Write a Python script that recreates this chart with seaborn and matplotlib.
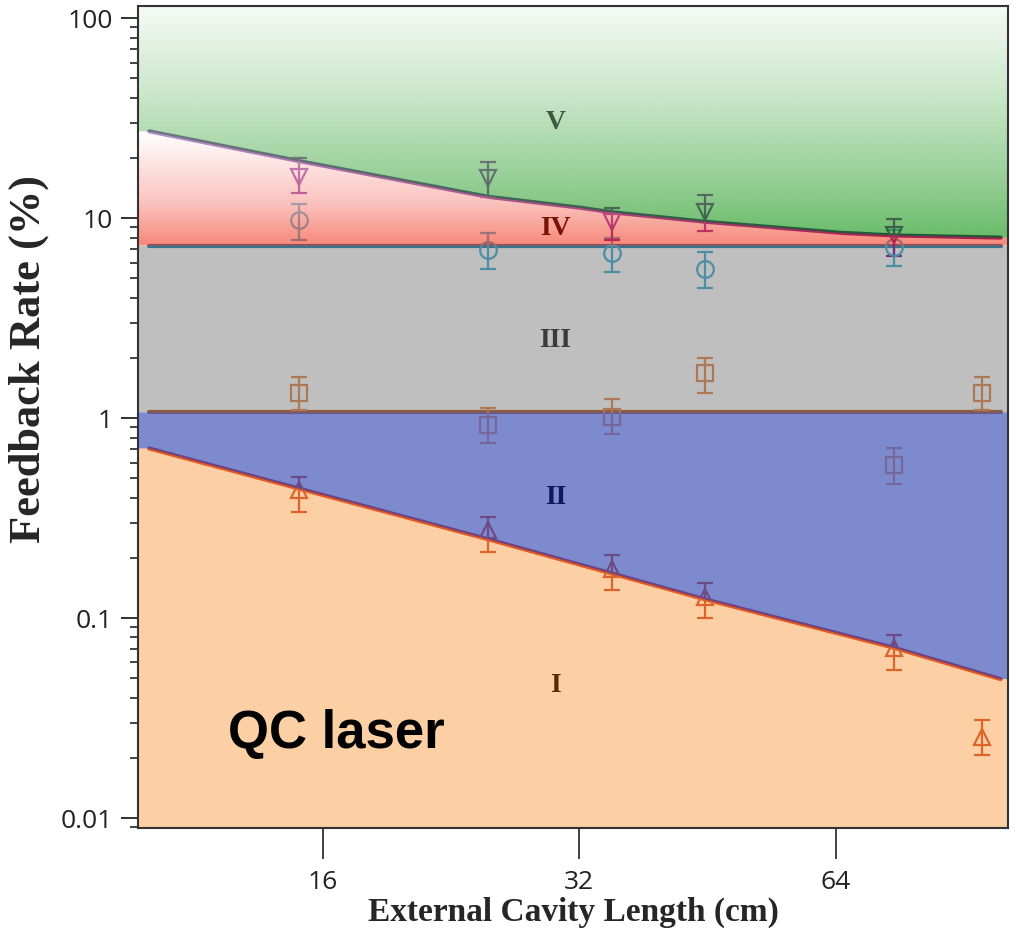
import numpy as np
import pandas as pd
import matplotlib
matplotlib.use("Agg")
import matplotlib.pyplot as plt
from matplotlib.patches import Polygon
from matplotlib.ticker import FixedLocator, FixedFormatter, LogLocator, NullLocator, NullFormatter
import seaborn as sns

# ---------------- measured thresholds (feedback rate in %) ----------------
# upward triangles: onset of regime II
len_up = [15, 25, 35, 45, 75, 95]
rate_up = [0.436, 0.275, 0.176, 0.128, 0.071, 0.0254]
up_lo = [0.34, 0.214, 0.138, 0.100, 0.055, 0.0207]
up_hi = [0.507, 0.32, 0.207, 0.150, 0.082, 0.031]

# squares: onset of regime III
len_sq = [15, 25, 35, 45, 75, 95]
rate_sq = [1.33, 0.92, 1.01, 1.68, 0.58, 1.33]
sq_lo = [1.10, 0.75, 0.83, 1.33, 0.47, 1.10]
sq_hi = [1.60, 1.12, 1.24, 2.00, 0.71, 1.60]

# circles: onset of regime IV
len_circ = [15, 25, 35, 45, 75]
rate_circ = [9.8, 6.9, 6.7, 5.6, 7.2]
circ_lo = [7.8, 5.55, 5.4, 4.5, 5.75]
circ_hi = [11.8, 8.4, 8.0, 6.8, 8.7]

# downward triangles: onset of regime V
len_down = [15, 25, 35, 45, 75]
rate_down = [16.0, 15.9, 9.55, 10.7, 8.2]
down_lo = [13.3, 12.8, 7.8, 8.6, 6.5]
down_hi = [20.0, 19.1, 11.2, 13.0, 9.9]

# ---------------- regime boundaries ----------------
b12_len = [10, 25, 45, 75, 100]
b12_rate = [0.705, 0.248, 0.124, 0.071, 0.0495]
b23_rate = 1.07
b34_rate = 7.3
b45_len = [10, 15, 25, 32, 35, 45, 65, 75, 100]
b45_rate = [27.2, 19.3, 12.8, 11.3, 10.7, 9.6, 8.45, 8.2, 8.0]

regime_names = ["I", "II", "III", "IV", "V"]
regime_x = [30, 30, 30, 30, 30]
regime_y = [0.046, 0.40, 2.45, 8.9, 30.2]
regime_colors = ["#5a2a08", "#0a1a5c", "#3a3a3a", "#7a1208", "#3d5a44"]

x_ticks = [16, 32, 64]
y_ticks = [0.01, 0.1, 1, 10, 100]
y_ticklabels = ["0.01", "0.1", "1", "10", "100"]

XMIN, XMAX = 9.7, 102.0
YMIN, YMAX = 10 ** -2.05, 10 ** 2.0615

sns.set_theme(style="ticks")
plt.rcParams["font.family"] = ["Open Sans", "DejaVu Sans"]

fig = plt.figure(figsize=(10.15, 9.32), dpi=100)
ax = fig.add_axes([138 / 1015, 1 - 828 / 932, 870 / 1015, 822 / 932])
ax.set_xscale("log", base=2)
ax.set_yscale("log")
ax.set_xlim(XMIN, XMAX)
ax.set_ylim(YMIN, YMAX)


def under(target, alpha):
    """Colour that, laid over white with the given alpha, shows as target."""
    t = np.asarray(target, float)
    return tuple(np.clip((t - 255 * (1 - alpha)) / alpha, 0, 255) / 255)


# ---------------- boundary lines (beneath the translucent regions) ----------------
bounds = pd.concat([
    pd.DataFrame({"L": b12_len, "rate": b12_rate, "b": "I/II"}),
    pd.DataFrame({"L": [10, 100], "rate": [b23_rate] * 2, "b": "II/III"}),
    pd.DataFrame({"L": [10, 100], "rate": [b34_rate] * 2, "b": "III/IV"}),
    pd.DataFrame({"L": b45_len, "rate": b45_rate, "b": "IV/V"}),
])
line_pal = {"I/II": "#c81400", "II/III": "#b05a28", "III/IV": "#2c7ea8", "IV/V": "#4a0a80"}
sns.lineplot(data=bounds, x="L", y="rate", hue="b", palette=line_pal, estimator=None,
             sort=False, linewidth=3.0, legend=False, ax=ax, zorder=2)

# ---------------- measured points ----------------
def points(x, y, lo, hi, marker, color, ms):
    y = np.asarray(y)
    err = [y - np.asarray(lo), np.asarray(hi) - y]
    ax.errorbar(x, y, yerr=err, fmt=marker, mfc="none", mec=color, ecolor=color,
                ms=ms, mew=1.6, elinewidth=1.6, capsize=6, capthick=1.6, zorder=2)

points(len_up, rate_up, up_lo, up_hi, "^", "#c0280a", 12)
points(len_sq, rate_sq, sq_lo, sq_hi, "s", "#e08a50", 11)
points(len_circ, rate_circ, circ_lo, circ_hi, "o", "#3eaed4", 12)
points(len_down, rate_down, down_lo, down_hi, "v", "#7a1496", 12)

# ---------------- translucent regimes ----------------
def poly(xs, ys, **kw):
    p = Polygon(np.column_stack([xs, ys]), closed=True, transform=ax.transData, **kw)
    ax.add_patch(p)
    return p

x12 = [XMIN] + b12_len + [XMAX]
y12 = [b12_rate[0]] + b12_rate + [b12_rate[-1]]
x45 = [XMIN] + b45_len + [XMAX]
y45 = [b45_rate[0]] + b45_rate + [b45_rate[-1]]

a1, a2, a3 = 0.5, 0.7, 0.4
poly([XMIN] + x12 + [XMAX], [YMIN] + y12 + [YMIN], fc=under((253, 208, 165), a1),
     alpha=a1, lw=0, zorder=3)
poly(x12 + [XMAX, XMIN], y12 + [b23_rate, b23_rate], fc=under((127, 139, 207), a2),
     alpha=a2, lw=0, zorder=3)
poly([XMIN, XMAX, XMAX, XMIN], [b23_rate, b23_rate, b34_rate, b34_rate],
     fc=under((191, 191, 191), a3), alpha=a3, lw=0, zorder=3)
clip4 = poly([XMIN, XMAX] + x45[::-1], [b34_rate, b34_rate] + y45[::-1], fc="none", lw=0)
clip5 = poly(x45 + [XMAX, XMIN], y45 + [YMAX, YMAX], fc="none", lw=0)


def yfrac(v):
    return (np.log10(v) - np.log10(YMIN)) / (np.log10(YMAX) - np.log10(YMIN))


def gradient(stops, alpha, clip):
    f = np.linspace(0, 1, 600)
    pos = [s[0] for s in stops]
    rgb = np.stack([np.interp(f, pos, [under(s[1], alpha)[k] for s in stops])
                    for k in range(3)], axis=1)
    img = np.concatenate([rgb, np.full((len(f), 1), alpha)], axis=1)[:, None, :]
    im = ax.imshow(img, extent=(0, 1, 0, 1), transform=ax.transAxes, origin="lower",
                   aspect="auto", interpolation="bilinear", zorder=3)
    im.set_clip_path(clip)


gradient([(yfrac(b34_rate), (247, 135, 120)), (yfrac(12), (251, 195, 190)),
          (yfrac(27), (255, 255, 255)), (1.0, (255, 255, 255))], 0.55, clip4)
gradient([(0.0, (105, 188, 105)), (yfrac(8), (105, 188, 105)), (yfrac(15), (148, 206, 148)),
          (yfrac(40), (200, 230, 200)), (1.0, (246, 250, 246))], 0.6, clip5)

# ---------------- labels ----------------
for name, x, y, c in zip(regime_names, regime_x, regime_y, regime_colors):
    ax.text(x, y, name, ha="center", va="center", color=c, fontsize=20,
            fontweight="bold", family="Liberation Serif", zorder=6)

ax.text(0.103, 0.097, "QC laser", transform=ax.transAxes, ha="left", va="baseline",
        fontsize=38, fontweight="bold", family="Liberation Sans", color="black", zorder=6)

ax.xaxis.set_major_locator(FixedLocator(x_ticks))
ax.xaxis.set_major_formatter(FixedFormatter([str(t) for t in x_ticks]))
ax.xaxis.set_minor_locator(NullLocator())
ax.yaxis.set_major_locator(FixedLocator(y_ticks))
ax.yaxis.set_major_formatter(FixedFormatter(y_ticklabels))
ax.yaxis.set_minor_locator(LogLocator(base=10, subs=np.arange(2, 10)))
ax.yaxis.set_minor_formatter(NullFormatter())
ax.tick_params(axis="x", which="major", direction="out", length=22, width=1.2,
               color="#222222", labelsize=19, pad=8, labelcolor="#222222")
ax.tick_params(axis="y", which="major", direction="out", length=12, width=1.3,
               color="#222222", labelsize=19, pad=6, labelcolor="#222222")
ax.tick_params(axis="y", which="minor", direction="out", length=6, width=1.2, color="#222222")

for s in ax.spines.values():
    s.set_linewidth(1.5)
    s.set_color("#333333")
    s.set_zorder(7)

ax.set_xlabel("External Cavity Length (cm)", fontsize=24, fontweight="bold",
              family="Liberation Serif", va="center")
ax.xaxis.set_label_coords(0.5, -0.103)
ax.set_ylabel("Feedback Rate (%)", fontsize=32, fontweight="bold",
              family="Liberation Serif", va="center")
ax.yaxis.set_label_coords(-0.125, 0.57)

fig.savefig("out.png", dpi=100)
